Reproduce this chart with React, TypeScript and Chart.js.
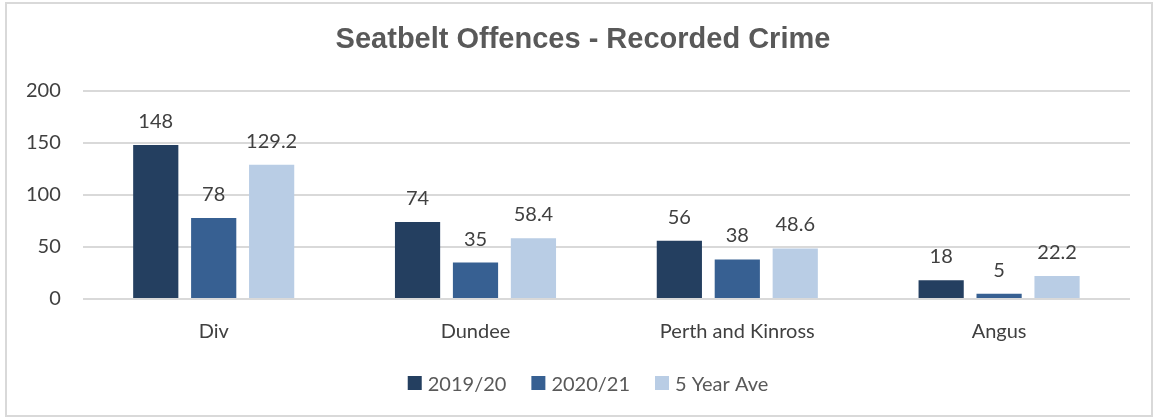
import React, { useEffect, useRef } from "react";
import { Chart, registerables } from "chart.js";

Chart.register(...registerables);

const categories = ["Div", "Dundee", "Perth and Kinross", "Angus"];
const series2019 = [148, 74, 56, 18];
const series2020 = [78, 35, 38, 5];
const series5yr = [129.2, 58.4, 48.6, 22.2];
const seriesNames = ["2019/20", "2020/21", "5 Year Ave"];
const seriesColors = ["#243F60", "#376092", "#B9CDE5"];
const yTicks = [0, 50, 100, 150, 200];
const titleText = "Seatbelt Offences - Recorded Crime";

const FONT = "Lato, 'Open Sans', sans-serif";
const CANVAS_LEFT = 4;
const CANVAS_TOP = 4;

const dataLabelPlugin = {
  id: "dataLabels",
  afterDatasetsDraw(chart: any) {
    const ctx = chart.ctx;
    ctx.save();
    ctx.font = `20px ${FONT}`;
    ctx.fillStyle = "#404040";
    ctx.textAlign = "center";
    ctx.textBaseline = "alphabetic";
    chart.data.datasets.forEach((ds: any, i: number) => {
      const meta = chart.getDatasetMeta(i);
      meta.data.forEach((bar: any, j: number) => {
        ctx.fillText(String(ds.data[j]), bar.x, bar.y - 17);
      });
    });
    ctx.restore();
  },
};

const titlePlugin = {
  id: "customTitle",
  afterDraw(chart: any) {
    const ctx = chart.ctx;
    ctx.save();
    ctx.font = "bold 29px 'Liberation Sans', Arial, sans-serif";
    ctx.fillStyle = "#595959";
    ctx.textAlign = "center";
    ctx.textBaseline = "alphabetic";
    ctx.fillText(titleText, 583 - CANVAS_LEFT, 48 - CANVAS_TOP);
    ctx.restore();
  },
};

const legendPlugin = {
  id: "customLegend",
  afterDraw(chart: any) {
    const ctx = chart.ctx;
    ctx.save();
    ctx.font = `20px ${FONT}`;
    const box = 14;
    const gapBoxText = 6;
    const gapItems = 25;
    const widths = chart.data.datasets.map((ds: any) => ctx.measureText(ds.label).width);
    const total =
      widths.reduce((a: number, w: number) => a + box + gapBoxText + w, 0) + gapItems * (widths.length - 1);
    let x = 588 - CANVAS_LEFT - total / 2;
    const cy = 383 - CANVAS_TOP;
    chart.data.datasets.forEach((ds: any, i: number) => {
      ctx.fillStyle = ds.backgroundColor;
      ctx.fillRect(x, cy - box / 2, box, box);
      x += box + gapBoxText;
      ctx.fillStyle = "#595959";
      ctx.textAlign = "left";
      ctx.textBaseline = "alphabetic";
      ctx.fillText(ds.label, x, cy + 7.5);
      x += widths[i] + gapItems;
    });
    ctx.restore();
  },
};

export default function App() {
  const ref = useRef<HTMLCanvasElement>(null);
  useEffect(() => {
    document.body.style.margin = "0";
    const chart = new Chart(ref.current!, {
      type: "bar",
      data: {
        labels: categories,
        datasets: seriesNames.map((name, i) => ({
          label: name,
          data: [series2019, series2020, series5yr][i],
          backgroundColor: seriesColors[i],
        })),
      },
      options: {
        animation: false,
        responsive: false,
        maintainAspectRatio: false,
        layout: { padding: { left: 0, right: 22, top: 87, bottom: 58 } },
        datasets: {
          bar: { categoryPercentage: 0.664, barPercentage: 0.78 },
        },
        plugins: {
          title: { display: false },
          legend: { display: false },
          tooltip: { enabled: false },
        },
        scales: {
          x: {
            grid: { display: false },
            border: { display: false },
            ticks: { color: "#404040", font: { family: FONT, size: 20 }, padding: 13 },
          },
          y: {
            min: 0,
            max: 200,
            afterBuildTicks: (axis: any) => {
              axis.ticks = yTicks.map((v) => ({ value: v }));
            },
            grid: { color: "#D9D9D9", lineWidth: 2, drawTicks: false },
            border: { display: false },
            ticks: { color: "#404040", font: { family: FONT, size: 20 }, padding: 22 },
          },
        },
      },
      plugins: [dataLabelPlugin, titlePlugin, legendPlugin],
    });
    return () => chart.destroy();
  }, []);
  return (
    <div style={{ position: "relative", width: 1154, height: 418, background: "#fff" }}>
      <div style={{ position: "absolute", left: 5, top: 2, width: 1148, height: 415, boxSizing: "border-box", border: "2px solid #D9D9D9" }} />
      <canvas ref={ref} width={1148} height={411} style={{ position: "absolute", left: CANVAS_LEFT, top: CANVAS_TOP, display: "block" }} />
    </div>
  );
}
